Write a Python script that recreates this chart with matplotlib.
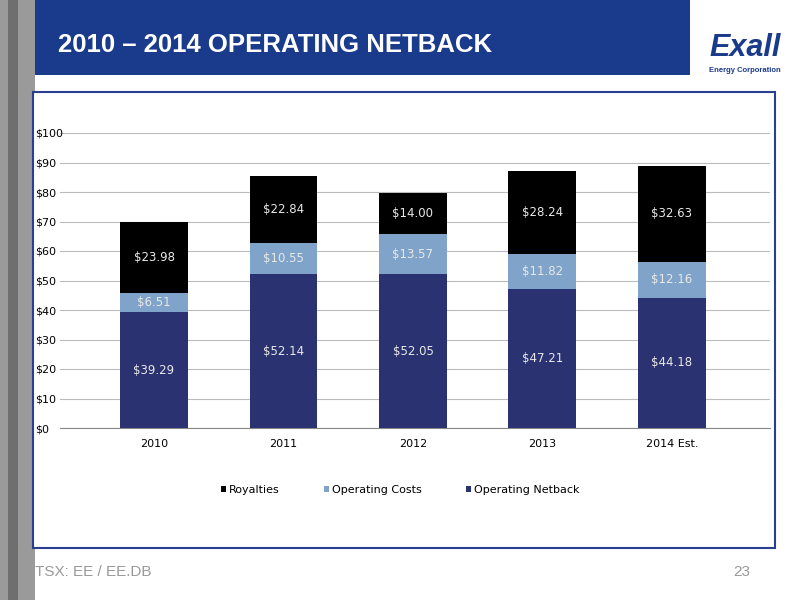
import matplotlib
matplotlib.use("Agg")
import matplotlib.pyplot as plt
from matplotlib.patches import Rectangle

years = ["2010", "2011", "2012", "2013", "2014 Est."]
netback = [39.29, 52.14, 52.05, 47.21, 44.18]
opcosts = [6.51, 10.55, 13.57, 11.82, 12.16]
royalties = [23.98, 22.84, 14.00, 28.24, 32.63]
yticks = [0, 10, 20, 30, 40, 50, 60, 70, 80, 90, 100]

W, H = 800, 600
fig = plt.figure(figsize=(8, 6), dpi=100)
fig.patch.set_facecolor("white")

def rect(x, y, w, h, **kw):
    fig.patches.append(Rectangle((x / W, 1 - (y + h) / H), w / W, h / H,
                                 transform=fig.transFigure, zorder=-5, **kw))

rect(0, 0, 35, 600, facecolor="#9a9a9a", edgecolor="none")
rect(8, 0, 10, 600, facecolor="#6f6f6f", edgecolor="none")
rect(35, 0, 655, 75, facecolor="#1a3a8c", edgecolor="none")
fig.text(58 / W, 1 - 45 / H, "2010 – 2014 OPERATING NETBACK", color="white",
         fontsize=18.5, fontweight="bold", va="center", family="Liberation Sans")
fig.text(745 / W, 1 - 48 / H, "Exall", color="#1a3a8c", fontsize=22, fontweight="bold",
         style="italic", ha="center", va="center", family="Liberation Sans")
fig.text(745 / W, 1 - 70 / H, "Energy Corporation", color="#1a3a8c", fontsize=5.5,
         fontweight="bold", ha="center", va="center", family="Liberation Sans")
rect(33, 92, 742, 456, facecolor="white", edgecolor="#2a3f8f", linewidth=1.5)
fig.text(35 / W, 1 - 572 / H, "TSX: EE / EE.DB", color="#999999", fontsize=11,
         va="center", family="Liberation Sans")
fig.text(750 / W, 1 - 572 / H, "23", color="#999999", fontsize=11, ha="right",
         va="center", family="Liberation Sans")

ax = fig.add_axes([60 / W, 1 - 428 / H, (770 - 60) / W, (428 - 133) / H])
ax.set_zorder(5)
ax.patch.set_alpha(0)
x = range(len(years))
c_nb, c_oc, c_ro = "#2b3272", "#7fa3c9", "#000000"
w = 0.525
ax.bar(x, netback, w, color=c_nb, label="Operating Netback", zorder=3)
ax.bar(x, opcosts, w, bottom=netback, color=c_oc, label="Operating Costs", zorder=3)
b2 = [a + b for a, b in zip(netback, opcosts)]
ax.bar(x, royalties, w, bottom=b2, color=c_ro, label="Royalties", zorder=3)

lc = "#e8e8e8"
for i in x:
    ax.text(i, netback[i] / 2, f"${netback[i]:.2f}", color=lc, ha="center", va="center", fontsize=8.5, zorder=4)
    ax.text(i, netback[i] + opcosts[i] / 2, f"${opcosts[i]:.2f}", color=lc, ha="center", va="center", fontsize=8.5, zorder=4)
    ax.text(i, b2[i] + royalties[i] / 2, f"${royalties[i]:.2f}", color=lc, ha="center", va="center", fontsize=8.5, zorder=4)

ax.set_ylim(0, 100)
ax.set_xlim(-0.726, 4.757)
ax.set_yticks(yticks)
ax.set_yticklabels([f"${v}" for v in yticks], fontsize=8)
ax.set_xticks(list(x))
ax.set_xticklabels(years, fontsize=8)
ax.grid(axis="y", color="#bbbbbb", linewidth=0.8, zorder=0)
for s in ["top", "right", "left"]:
    ax.spines[s].set_visible(False)
ax.spines["bottom"].set_color("#888888")
ax.tick_params(axis="y", length=0, pad=18)
ax.tick_params(axis="x", length=0, pad=8)
for lab in ax.get_yticklabels():
    lab.set_horizontalalignment("left")

h, l = ax.get_legend_handles_labels()
order = [2, 1, 0]
leg = fig.legend([h[i] for i in order], [l[i] for i in order], loc="center",
           bbox_to_anchor=(400 / W, 1 - 490 / H), ncol=3, frameon=False, fontsize=8,
           handlelength=0.5, handleheight=0.5, handletextpad=0.2, columnspacing=4)
leg.set_zorder(6)

fig.savefig("out.png", dpi=100)
